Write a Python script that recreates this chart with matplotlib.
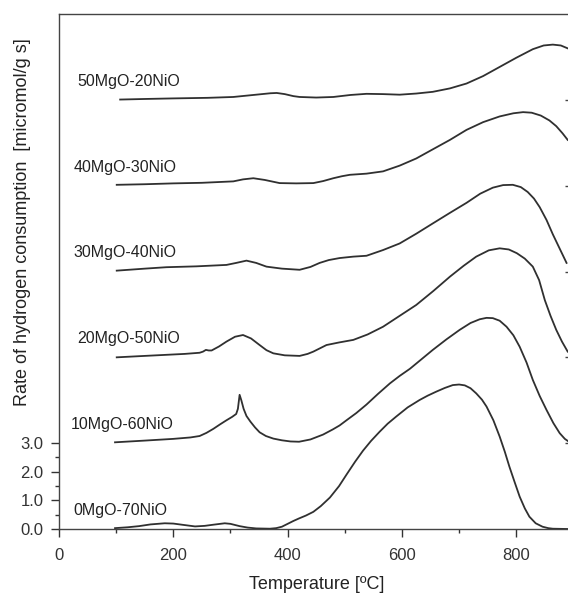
import matplotlib
matplotlib.use("Agg")
import matplotlib.pyplot as plt
from matplotlib.ticker import FixedLocator, MultipleLocator
import numpy as np

plt.rcParams['font.family'] = ['Liberation Sans', 'DejaVu Sans']

# ---- data ----
labels = ["0MgO-70NiO", "10MgO-60NiO", "20MgO-50NiO",
          "30MgO-40NiO", "40MgO-30NiO", "50MgO-20NiO"]
offsets = [0.0, 3.0, 6.0, 9.0, 12.0, 15.0]

t0 = [98, 120, 140, 160, 185, 200, 215, 238, 255, 270, 290, 300, 316, 330, 345, 369,
      380, 390, 400, 410, 420, 432, 445, 458, 474, 490, 503, 518, 532, 546, 561, 575, 590,
      610, 631, 645, 660, 675, 689, 700, 710, 720, 730, 740, 748, 760, 771, 780, 788,
      797, 806, 815, 823, 834, 846, 856, 864, 890]
r0 = [0.03, 0.06, 0.10, 0.16, 0.20, 0.19, 0.15, 0.09, 0.11, 0.15, 0.20, 0.18, 0.10,
      0.05, 0.02, 0.01, 0.03, 0.08, 0.18, 0.28, 0.37, 0.47, 0.60, 0.80, 1.10, 1.50, 1.90,
      2.35, 2.74, 3.08, 3.40, 3.68, 3.93, 4.25, 4.51, 4.66, 4.80, 4.93, 5.03, 5.05,
      5.02, 4.92, 4.74, 4.52, 4.28, 3.80, 3.23, 2.70, 2.18, 1.65, 1.13, 0.72, 0.43,
      0.20, 0.08, 0.03, 0.01, 0.00]

t1 = [98, 150, 200, 230, 246, 258, 270, 282, 293, 303, 310, 313, 316, 319, 323, 328,
      335, 343, 351, 362, 375, 390, 405, 420, 440, 462, 479, 491, 503, 520, 538, 558,
      579, 596, 614, 634, 654, 678, 701, 720, 736, 748, 759, 771, 783, 795, 806, 818,
      829, 841, 853, 865, 876, 885, 890]
r1 = [0.03, 0.09, 0.15, 0.20, 0.25, 0.36, 0.50, 0.66, 0.80, 0.92, 1.02, 1.20, 1.69,
      1.50, 1.20, 0.95, 0.75, 0.55, 0.38, 0.25, 0.16, 0.10, 0.06, 0.05, 0.13, 0.30,
      0.48, 0.62, 0.80, 1.05, 1.35, 1.72, 2.09, 2.35, 2.60, 2.93, 3.26, 3.63, 3.96,
      4.20, 4.33, 4.38, 4.37, 4.28, 4.07, 3.77, 3.37, 2.82, 2.21, 1.65, 1.16, 0.70,
      0.35, 0.15, 0.08]

t2 = [101, 140, 180, 220, 246, 252, 257, 262, 267, 280, 293, 308, 322, 336, 351, 363,
      375, 395, 421, 435, 445, 458, 468, 490, 515, 540, 567, 596, 625, 655, 684, 708,
      730, 752, 771, 787, 801, 815, 829, 840, 850, 860, 870, 880, 890]
r2 = [0.00, 0.04, 0.08, 0.12, 0.16, 0.20, 0.26, 0.24, 0.24, 0.38, 0.55, 0.72, 0.78,
      0.66, 0.43, 0.25, 0.14, 0.07, 0.05, 0.12, 0.20, 0.33, 0.43, 0.52, 0.61, 0.80,
      1.07, 1.45, 1.83, 2.32, 2.82, 3.20, 3.52, 3.74, 3.81, 3.77, 3.64, 3.45, 3.17,
      2.70, 2.00, 1.45, 0.96, 0.55, 0.20]

t3 = [101, 150, 188, 240, 293, 310, 328, 345, 363, 390, 421, 440, 456, 472, 491, 515,
      538, 567, 596, 625, 654, 684, 713, 737, 759, 777, 794, 808, 820, 831, 841, 853,
      864, 876, 888]
r3 = [0.03, 0.10, 0.15, 0.18, 0.23, 0.30, 0.38, 0.30, 0.17, 0.10, 0.06, 0.16, 0.30,
      0.40, 0.47, 0.52, 0.55, 0.75, 0.98, 1.32, 1.68, 2.05, 2.40, 2.72, 2.93, 3.02,
      3.03, 2.95, 2.78, 2.55, 2.25, 1.80, 1.30, 0.80, 0.30]

t4 = [101, 150, 200, 250, 305, 322, 340, 360, 386, 415, 445, 462, 480, 495, 509, 538,
      567, 596, 625, 654, 684, 713, 742, 771, 795, 812, 827, 843, 858, 870, 881, 890]
r4 = [0.03, 0.05, 0.08, 0.10, 0.15, 0.22, 0.26, 0.20, 0.09, 0.08, 0.09, 0.16, 0.26,
      0.33, 0.38, 0.42, 0.50, 0.70, 0.95, 1.27, 1.60, 1.95, 2.22, 2.42, 2.53, 2.57,
      2.55, 2.45, 2.28, 2.08, 1.83, 1.60]

t5 = [107, 150, 200, 260, 305, 345, 370, 381, 395, 410, 421, 450, 480, 510, 538, 567,
      596, 625, 654, 684, 713, 742, 771, 800, 829, 848, 864, 878, 890]
r5 = [0.01, 0.03, 0.05, 0.07, 0.10, 0.18, 0.23, 0.24, 0.20, 0.13, 0.10, 0.08, 0.10,
      0.17, 0.21, 0.20, 0.18, 0.22, 0.28, 0.40, 0.57, 0.83, 1.15, 1.47, 1.77, 1.90,
      1.93, 1.90, 1.80]

temps = [t0, t1, t2, t3, t4, t5]
rates = [r0, r1, r2, r3, r4, r5]

label_x = [26, 21, 31.5, 26, 26, 31.5]

ytick_major = [0.0, 1.0, 2.0, 3.0]
ytick_minor = [0.5, 1.5, 2.5]

# ---- figure ----
fig = plt.figure(figsize=(5.68, 5.97), dpi=100)
ax = fig.add_axes([59 / 568, 68 / 597, 514.4 / 568, 515 / 597])

line_color = '#303030'
for t, r, off, lab, lx in zip(temps, rates, offsets, labels, label_x):
    ax.plot(t, np.array(r) + off, color=line_color, lw=1.3)
    ax.text(lx, off + 0.65, lab, fontsize=11.5, color='#222222', ha='left', va='center')

ax.set_xlim(0, 900)
ax.set_ylim(0, 18.0)

ax.xaxis.set_major_locator(MultipleLocator(200))
ax.xaxis.set_minor_locator(MultipleLocator(100))
ax.yaxis.set_major_locator(FixedLocator(ytick_major))
ax.yaxis.set_minor_locator(FixedLocator(ytick_minor))
ax.set_yticklabels([f"{v:.1f}" for v in ytick_major])

ax.tick_params(axis='both', which='major', direction='out', length=6, width=1.0,
               labelsize=12, colors='#333333', pad=5)
ax.tick_params(axis='both', which='minor', direction='out', length=3, width=1.0,
               colors='#333333')
ax.tick_params(axis='x', which='major', pad=8)

for side in ['left', 'bottom', 'top']:
    ax.spines[side].set_color('#444444')
    ax.spines[side].set_linewidth(1.0)
ax.spines['right'].set_visible(False)

# right-hand inward ticks marking each baseline
ax2 = ax.twinx()
ax2.set_ylim(ax.get_ylim())
ax2.yaxis.set_major_locator(FixedLocator(offsets[1:]))
ax2.tick_params(axis='y', direction='in', length=6, width=1.0, colors='#444444',
                labelright=False)
for side in ax2.spines:
    ax2.spines[side].set_visible(False)

ax.set_xlabel("Temperature [ºC]", fontsize=13, color='#222222', labelpad=9)
fig.text(23 / 568, 1 - 222 / 597, "Rate of hydrogen consumption  [micromol/g s]",
         rotation=90, fontsize=13, color='#222222', ha='center', va='center')

fig.savefig("out.png", dpi=100)
